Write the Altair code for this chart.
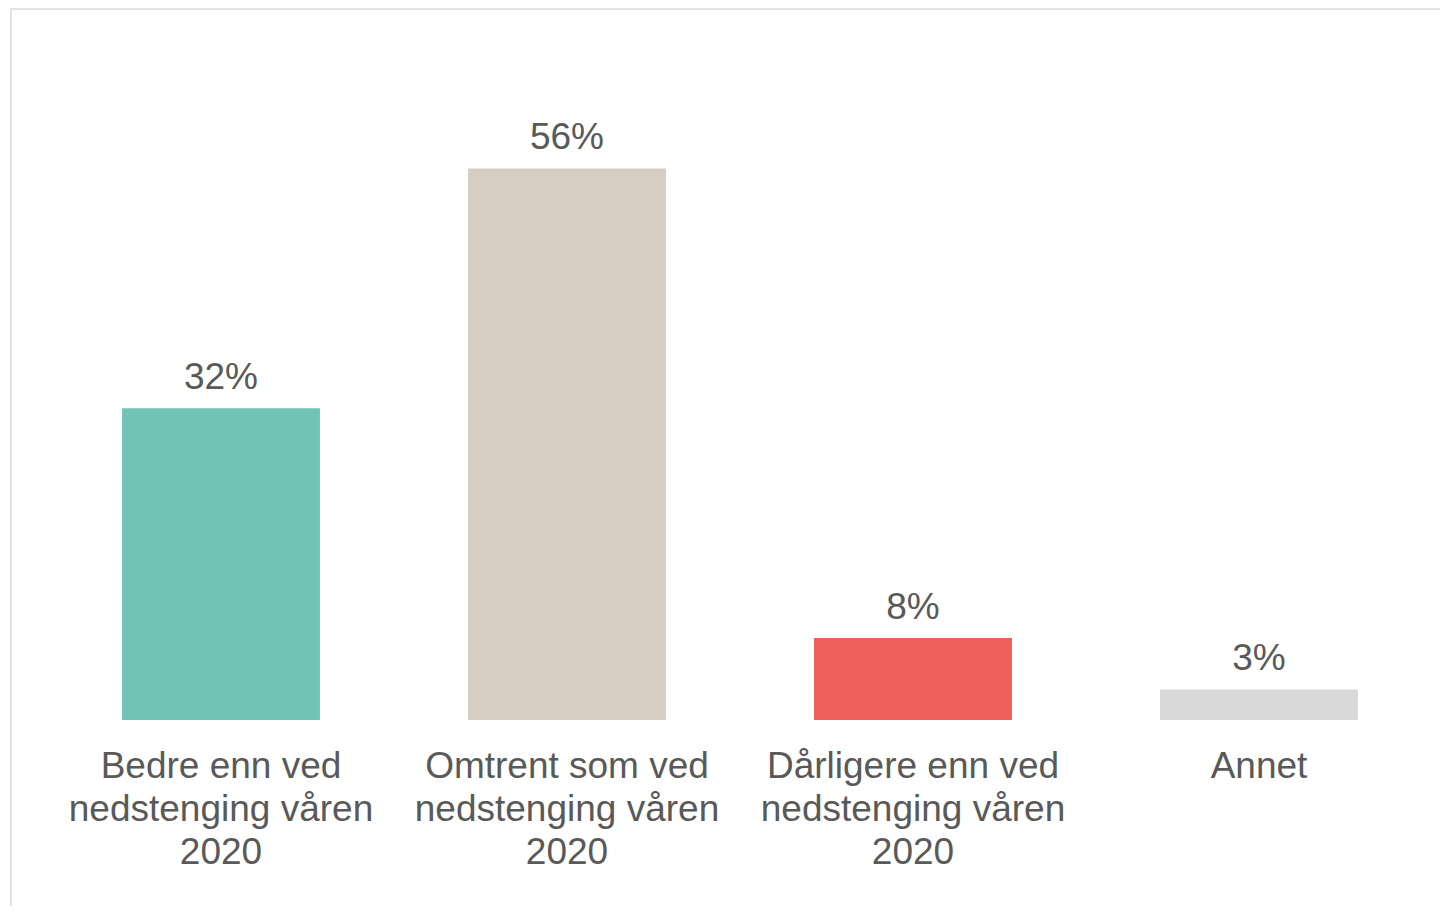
import altair as alt
import pandas as pd

categories = [
    "Bedre enn ved|nedstenging våren|2020",
    "Omtrent som ved|nedstenging våren|2020",
    "Dårligere enn ved|nedstenging våren|2020",
    "Annet",
]
values = [31.6, 55.9, 8.3, 3.1]
labels = ["32%", "56%", "8%", "3%"]
colors = ["#71C4B5", "#D6CEC2", "#EF5F5A", "#D9D9D9"]

df = pd.DataFrame({"cat": categories, "val": values, "lab": labels, "col": colors})

W, H = 1384, 592
TEXT = "#595959"
FONT = "Liberation Sans"

x = alt.X(
    "cat:N",
    sort=categories,
    scale=alt.Scale(paddingInner=0.428, paddingOuter=0.214),
    axis=alt.Axis(
        title=None,
        labelAngle=0,
        domain=False,
        ticks=False,
        labelFont=FONT,
        labelFontSize=37,
        labelColor=TEXT,
        labelPadding=28,
        labelLineHeight=43,
        labelLimit=0,
        labelExpr="split(datum.label, '|')",
        labelBaseline="top",
    ),
)
y = alt.Y("val:Q", scale=alt.Scale(domain=[0, 60], nice=False, zero=True), axis=None)

bars = alt.Chart(df).mark_bar().encode(
    x=x, y=y, color=alt.Color("col:N", scale=None)
)
text = alt.Chart(df).mark_text(
    font=FONT, fontSize=37, color=TEXT, baseline="alphabetic", dy=-19
).encode(x=x, y=y, text="lab:N")

border_left = alt.Chart(df).mark_rule(color="#E3E3E3", strokeWidth=2).encode(
    x=alt.value(-37), y=alt.value(-120), y2=alt.value(H + 190)
)
border_top = alt.Chart(df).mark_rule(color="#E3E3E3", strokeWidth=2).encode(
    x=alt.value(-38), x2=alt.value(W + 8), y=alt.value(-119)
)

chart = (
    alt.layer(border_left, border_top, bars, text)
    .properties(
        width=W,
        height=H,
        autosize=alt.AutoSizeParams(type="none"),
        padding={"left": 40, "top": 120, "right": 8, "bottom": 186},
    )
    .configure(background="white", view=alt.ViewConfig(strokeWidth=0, stroke="transparent"))
)

chart.save("out.html", embed_options={"renderer": "svg", "actions": False})
